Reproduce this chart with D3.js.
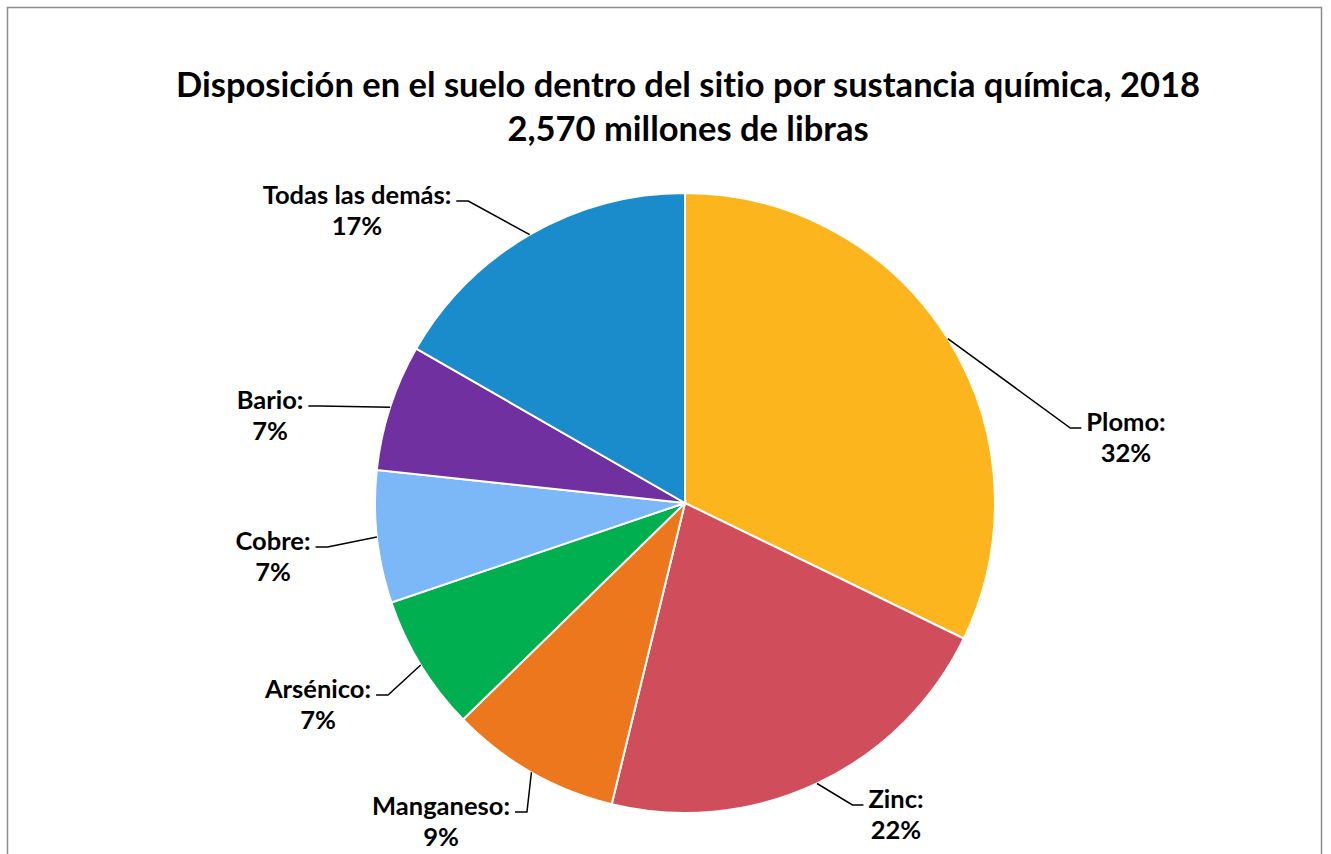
<!DOCTYPE html>
<html><head><meta charset="utf-8">
<script src="https://cdn.jsdelivr.net/npm/d3@7"></script>
<style>body{margin:0;background:#fff}svg{display:block}text{font-variant-ligatures:none;font-feature-settings:"liga" 0}</style>
</head><body>
<script>
const categories = ["Plomo", "Zinc", "Manganeso", "Arsénico", "Cobre", "Bario", "Todas las demás"];
const values = [32.2, 21.6, 8.9, 7.1, 6.9, 6.6, 16.7];
const colors = ["#FCB51C", "#D04E5B", "#EC771C", "#00AF50", "#7CB7F8", "#7030A0", "#1A8BCB"];
const titleLines = ["Disposición en el suelo dentro del sitio por sustancia química, 2018", "2,570 millones de libras"];
// label block layout: [centre x offset, first-line y offset] relative to pie centre, side of leader attachment
const labelLayout = [[441, -80, "left"], [211, 297, "left"], [-244, 304, "right"], [-367, 187, "right"], [-412, 39, "right"], [-415, -102, "right"], [-328, -307, "right"]];

const W = 1331, H = 854;
const cx = 685, cy = 503, R = 310;
const font = "Lato, 'Open Sans', sans-serif";

const svg = d3.select("body").append("svg").attr("width", W).attr("height", H);
svg.append("rect").attr("x", 7.5).attr("y", 7.5).attr("width", 1314).attr("height", 900)
  .attr("fill", "#fff").attr("stroke", "#8c8c8c").attr("stroke-width", 1.5);

const title = svg.append("g");
titleLines.forEach((t, i) => {
  title.append("text").attr("x", 688).attr("y", 97 + i * 44).attr("text-anchor", "middle")
    .attr("font-family", font).attr("font-weight", 700).attr("font-size", 34.5).attr("fill", "#000").text(t);
});

const pie = d3.pie().sort(null).value(d => d)(values);
const arc = d3.arc().innerRadius(0).outerRadius(R);
const g = svg.append("g").attr("transform", `translate(${cx},${cy})`);
g.selectAll("path").data(pie).join("path").attr("d", arc)
  .attr("fill", (d, i) => colors[i]).attr("stroke", "#fff").attr("stroke-width", 2);

const total = d3.sum(values);
const fs = 25.5;
pie.forEach((d, i) => {
  const [lx, ly, side] = labelLayout[i];
  const mid = (d.startAngle + d.endAngle) / 2;
  const sx = Math.sin(mid) * R, sy = -Math.cos(mid) * R;
  const lab = g.append("g");
  const t1 = lab.append("text").attr("x", lx).attr("y", ly + 8).attr("text-anchor", "middle")
    .attr("font-family", font).attr("font-weight", 700).attr("font-size", fs).text(categories[i] + ":");
  lab.append("text").attr("x", lx).attr("y", ly + 39).attr("text-anchor", "middle")
    .attr("font-family", font).attr("font-weight", 700).attr("font-size", fs)
    .text(Math.round(values[i] / total * 100) + "%");
  const w = t1.node().getComputedTextLength();
  const ax = side === "left" ? lx - w / 2 - 5 : lx + w / 2 + 5;
  const ay = ly + 5;
  const bx = side === "left" ? ax - 11 : ax + 12;
  g.append("path").attr("d", `M${sx},${sy}L${bx},${ay}L${ax},${ay}`)
    .attr("fill", "none").attr("stroke", "#000").attr("stroke-width", 1.5);
});
</script>
</body></html>
